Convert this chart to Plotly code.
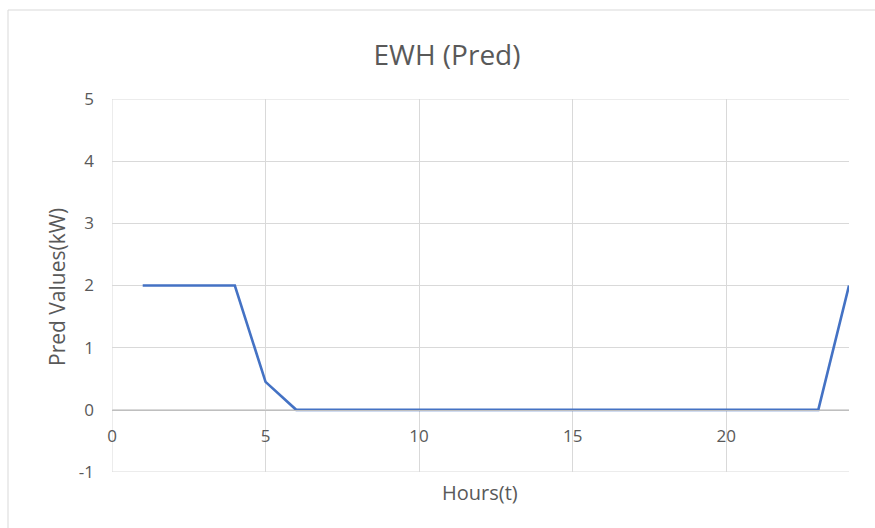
import plotly.graph_objects as go

# Hourly predicted EWH load (kW)
hours = list(range(1, 25))
pred_kw = [2, 2, 2, 2, 0.45, 0, 0, 0, 0, 0, 0, 0, 0, 0, 0, 0, 0, 0, 0, 0, 0, 0, 0, 2]

x_ticks = [0, 5, 10, 15, 20]
y_ticks = [-1, 0, 1, 2, 3, 4, 5]
y_tick_text = ["-1", "0", "1", "2", "3", "4", "5"]

TEXT = "#595959"
GRID = "#d9d9d9"
FONT = "Open Sans, sans-serif"

W, H = 875, 528
L, R, T, B = 112, 26, 99, 56
pw, ph = W - L - R, H - T - B

fig = go.Figure(go.Scatter(
    x=hours, y=pred_kw, mode="lines",
    line=dict(color="#4472C4", width=2.6),
    hoverinfo="x+y",
))

# Gridlines that sit on the plot edges (not always drawn by the axes themselves)
edge_lines = [
    dict(type="line", xref="x", yref="y", x0=0, x1=24, y0=5, y1=5),
    dict(type="line", xref="x", yref="y", x0=0, x1=24, y0=-1, y1=-1),
    dict(type="line", xref="x", yref="y", x0=0, x1=0, y0=-1, y1=5),
]
for s in edge_lines:
    s.update(line=dict(color=GRID, width=1), layer="below")

frame = dict(type="rect", xref="paper", yref="paper",
             x0=(8 - L) / pw, x1=(885 - L) / pw,
             y0=(H - B - 540) / ph, y1=(H - B - 10) / ph,
             line=dict(color=GRID, width=1), fillcolor="rgba(0,0,0,0)", layer="below")

fig.update_layout(
    width=W, height=H,
    margin=dict(l=L, r=R, t=T, b=B),
    paper_bgcolor="white", plot_bgcolor="white",
    showlegend=False,
    font=dict(family=FONT, color=TEXT, size=16),
    title=dict(text="EWH (Pred)", x=447 / W, xanchor="center",
               y=1 - 55 / H, yanchor="middle",
               font=dict(size=28, color=TEXT, family=FONT)),
    xaxis=dict(
        range=[0, 24], tickvals=x_ticks, showgrid=True, gridcolor=GRID, gridwidth=1,
        zeroline=False, showline=True, linecolor="#bfbfbf", linewidth=1,
        anchor="free", position=1 / 6, ticks="", ticklen=0, ticklabelstandoff=11,
        tickfont=dict(size=17, color=TEXT),
    ),
    yaxis=dict(
        range=[-1, 5], tickvals=y_ticks, ticktext=y_tick_text,
        showgrid=True, gridcolor=GRID, gridwidth=1,
        zeroline=False, showline=False, ticks="", ticklabelstandoff=17,
        tickfont=dict(size=17, color=TEXT),
    ),
    annotations=[
        dict(text="Hours(t)", xref="paper", yref="paper", x=(480 - L) / pw,
             y=(H - B - 492) / ph, showarrow=False, xanchor="center", yanchor="middle",
             font=dict(size=20, color=TEXT)),
        dict(text="Pred Values(kW)", xref="paper", yref="paper", x=(57 - L) / pw,
             y=(H - B - 287) / ph, showarrow=False, textangle=-90,
             xanchor="center", yanchor="middle", font=dict(size=21, color=TEXT)),
    ],
    shapes=edge_lines + [frame],
)

fig.write_html("out.html")
